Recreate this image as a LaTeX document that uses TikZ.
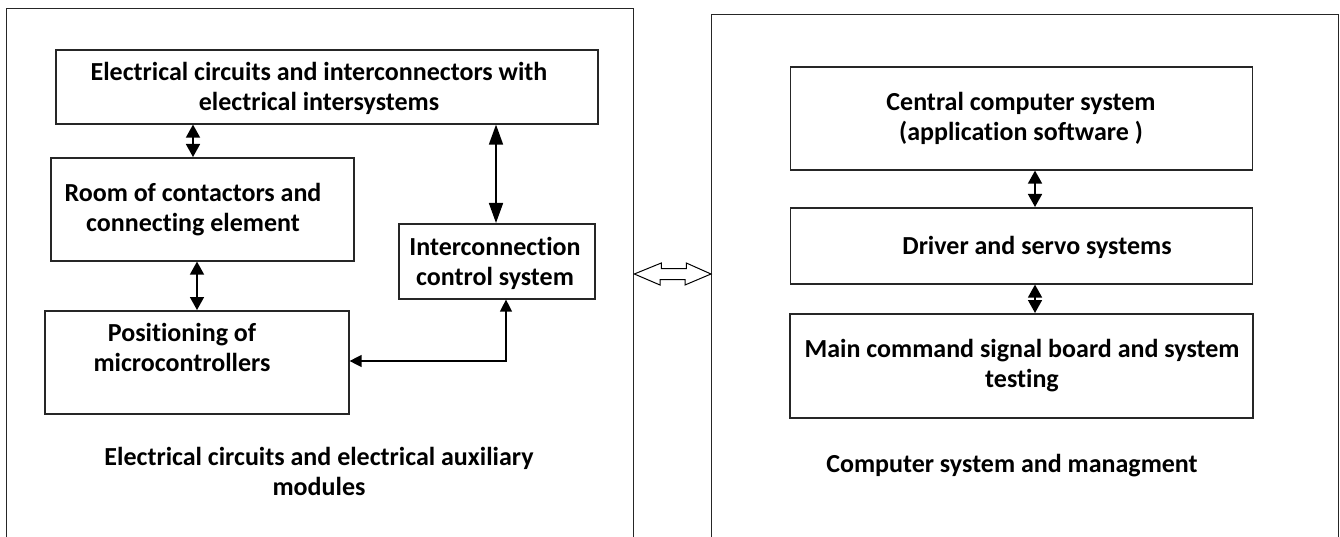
\documentclass[tikz,border=0pt]{standalone}
\usepackage{fontspec}
\setmainfont{Carlito}[Ligatures=NoCommon]
\usetikzlibrary{arrows.meta}
\begin{document}
\begin{tikzpicture}[x=1pt,y=-1pt,
  frame/.style={draw=black!85,line width=1.3pt,rectangle,inner sep=0pt,anchor=north west},
  box/.style={draw=black!85,line width=1.6pt,rectangle,inner sep=0pt,anchor=north west},
  txt/.style={font=\bfseries\fontsize{26}{30}\selectfont,align=center,inner sep=0pt},
  link/.style={line width=1.6pt,{Triangle[length=13pt,width=14pt]}-{Triangle[length=13pt,width=14pt]}},
  longlink/.style={line width=1.6pt,{Triangle[length=20pt,width=14pt]}-{Triangle[length=20pt,width=14pt]}},
  thinlink/.style={line width=1.3pt,{Triangle[length=12pt,width=12pt]}-{Triangle[length=12pt,width=12pt]}},
]
\useasboundingbox (0,0) rectangle (1340,537);

% outer frames (open below the page edge)
\node[frame,minimum width=627pt,minimum height=560pt] (lf) at (6,8) {};
\node[frame,minimum width=627pt,minimum height=560pt] (rf) at (711,14) {};

% left group
\node[box,minimum width=542pt,minimum height=74pt] (top) at (55,49) {};
\node[box,minimum width=303pt,minimum height=103pt] (rm) at (50,157) {};
\node[box,minimum width=196pt,minimum height=75pt] (ic) at (398,223) {};
\node[box,minimum width=304pt,minimum height=103pt] (pos) at (44,310) {};

\node[txt] (top-t) at (319,88) {Electrical circuits and interconnectors with\\electrical intersystems};
\node[txt] (rm-t) at (193,210) {Room of contactors and\\connecting element};
\node[txt] (ic-t) at (495,263) {Interconnection\\control system};
\node[txt] (pos-t) at (182,347) {Positioning of\\microcontrollers};
\node[txt] (lf-t) at (319,471) {Electrical circuits and electrical auxiliary\\modules};

\draw[link] (193,0 |- top.south) -- (193,0 |- rm.north);
\draw[longlink] (496,0 |- top.south) -- (496,0 |- ic.north);
\draw[link] (197,0 |- rm.south) -- (197,0 |- pos.north);
\draw[thinlink] (pos.east |- 0,361) -- (506,361) -- (506,0 |- ic.south);

% right group
\node[box,minimum width=462pt,minimum height=103pt] (cc) at (789.5,66) {};
\node[box,minimum width=462pt,minimum height=76pt] (dr) at (789.5,207) {};
\node[box,minimum width=463pt,minimum height=104pt] (mc) at (789,313) {};

\node[txt] (cc-t) at (1021,118) {Central computer system\\(application software )};
\node[txt] (dr-t) at (1037,247) {Driver and servo systems};
\node[txt] (mc-t) at (1022,366) {Main command signal board and system\\testing};
\node[txt] (rf-t) at (1012,466) {Computer system and managment};

\draw[link] (1035,0 |- cc.south) -- (1035,0 |- dr.north);
\draw[link] (1035,0 |- dr.south) -- (1035,0 |- mc.north);

% hollow two-way block arrow between the frames
\draw[line width=1pt,fill=white] (lf.east |- 0,274) -- ++(27,-11) -- ++(0,5.5) -- ++(25,0)
  -- ++(0,-5.5) -- (rf.west |- 0,274) -- ++(-26,11) -- ++(0,-5.5) -- ++(-25,0)
  -- ++(0,5.5) -- cycle;
\end{tikzpicture}
\end{document}
